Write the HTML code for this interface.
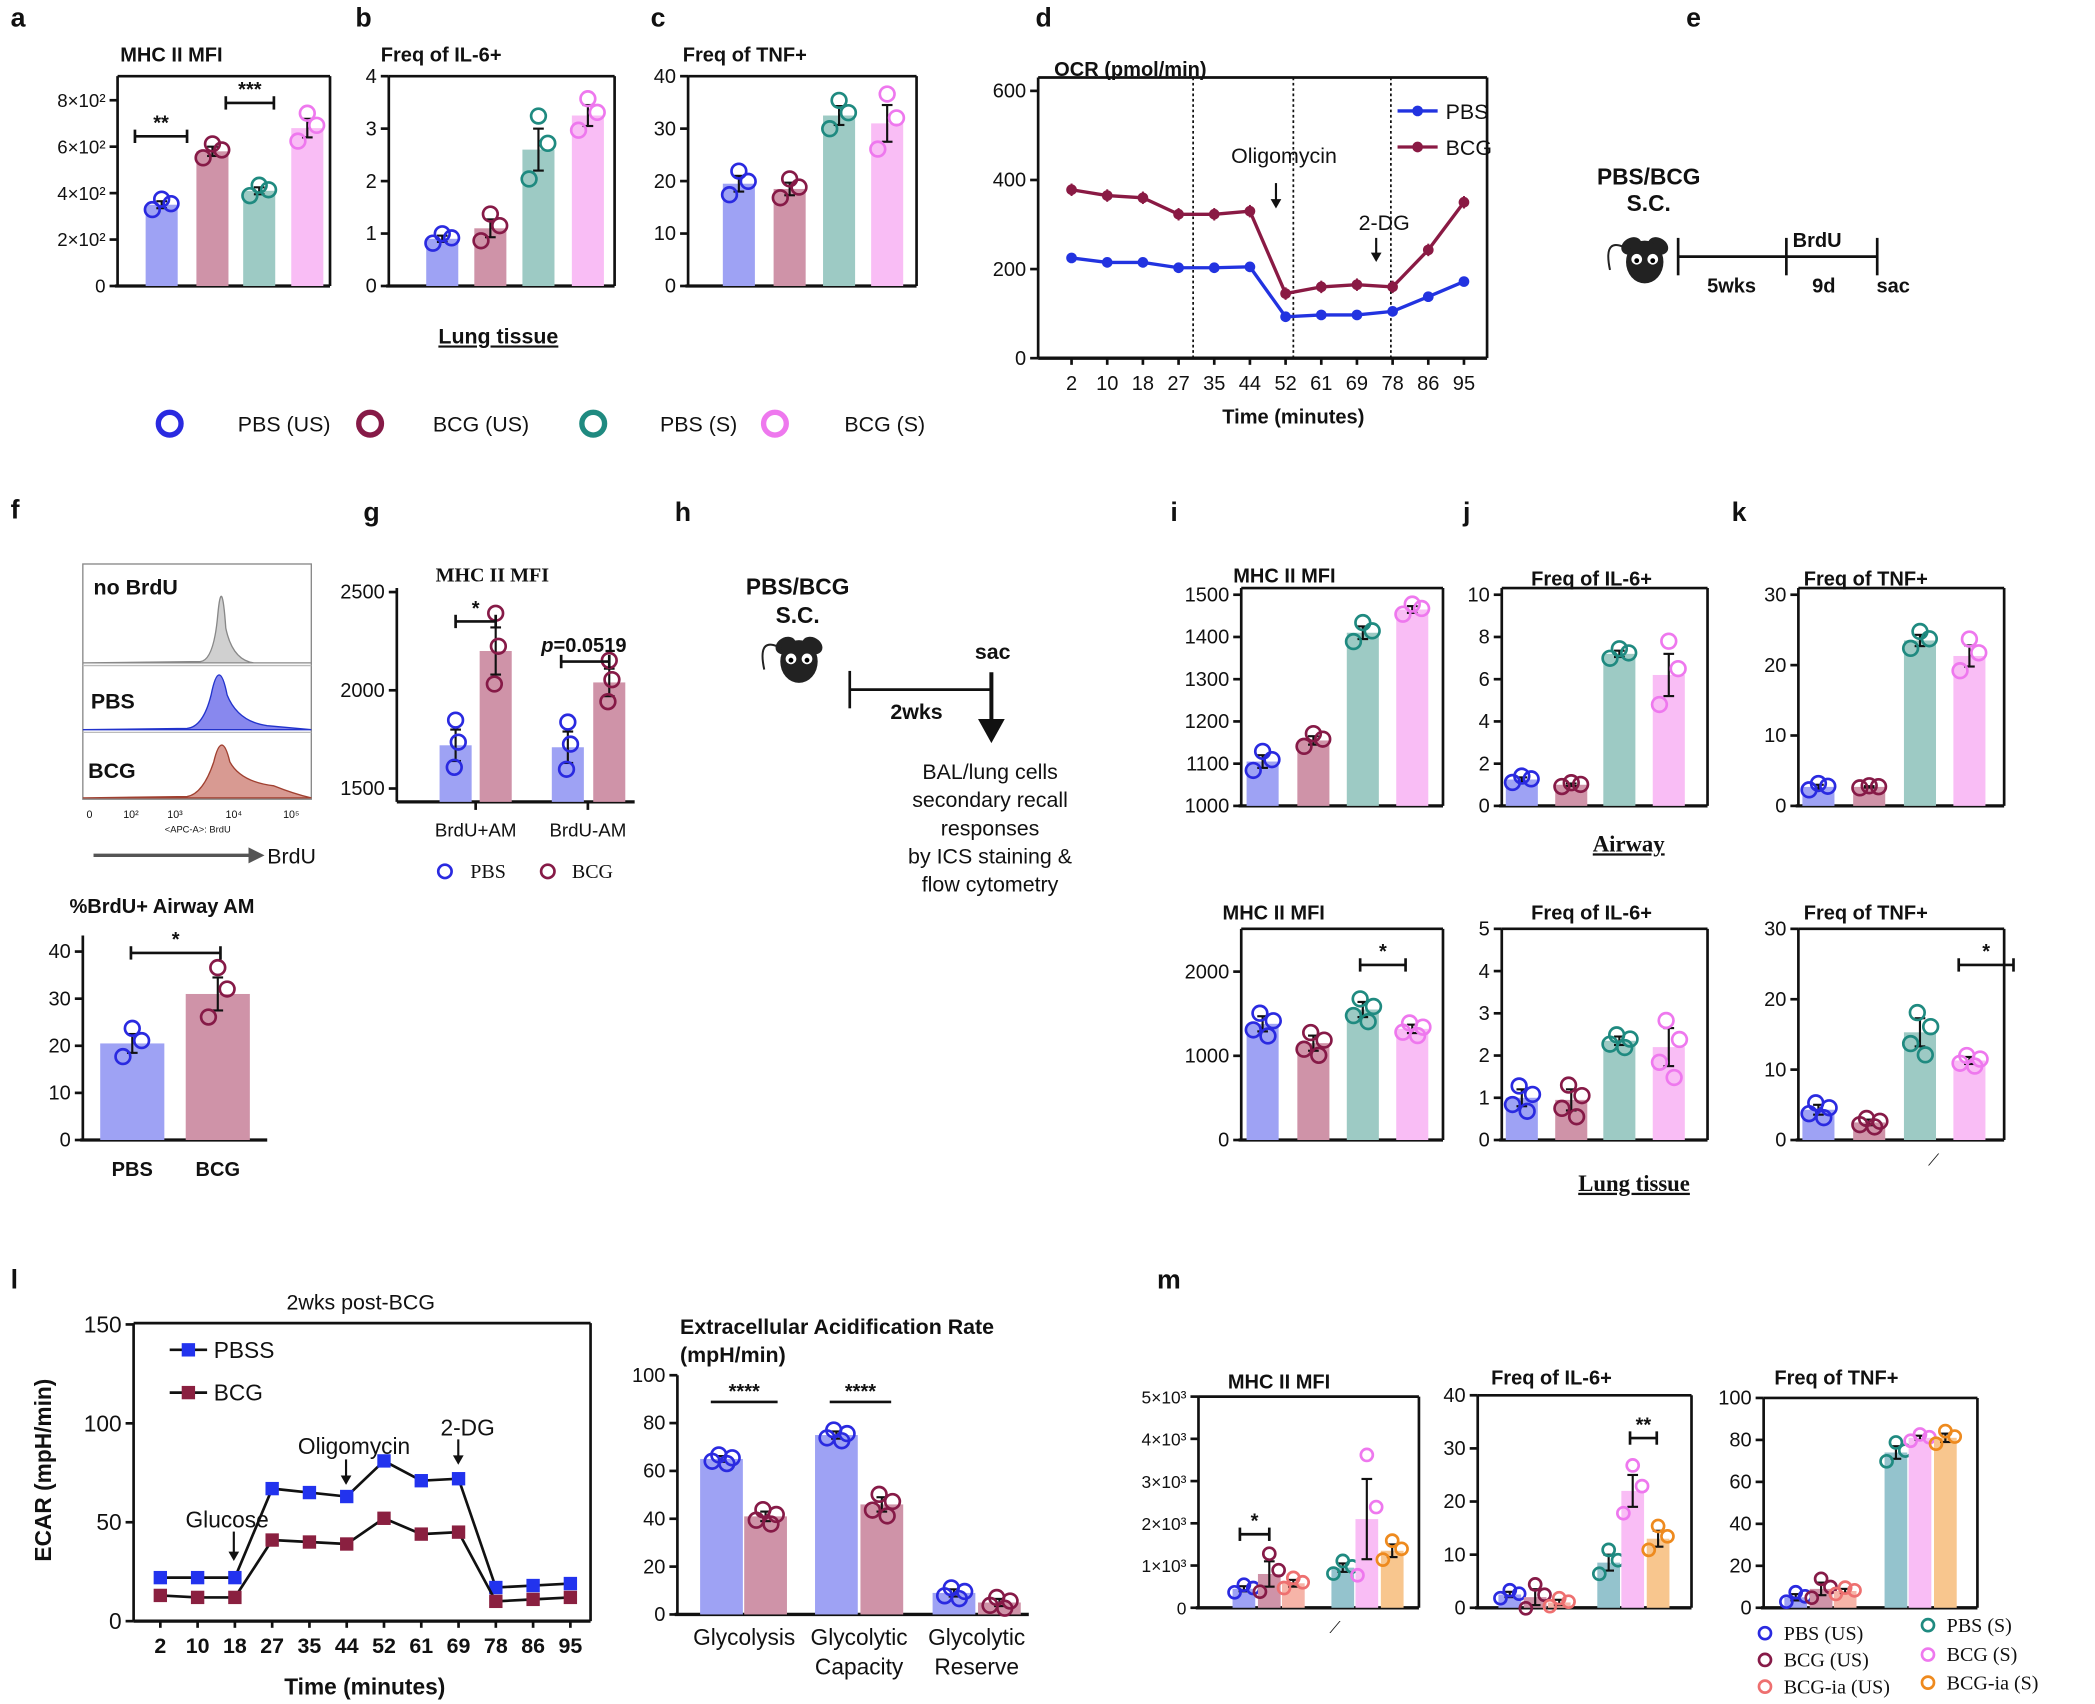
<!DOCTYPE html>
<html><head><meta charset="utf-8">
<style>
html,body{margin:0;padding:0;background:#fff;}
svg{display:block;}
text{font-family:"Liberation Sans",sans-serif;fill:#111;}
.s{font-family:"Liberation Serif",serif;}
</style></head>
<body>
<svg id="g" width="2095" height="1704" viewBox="0 0 1568 1275" preserveAspectRatio="none" xmlns="http://www.w3.org/2000/svg"></svg>
<script>
const S=document.getElementById('g');let H='';
const C={bu:['#2a2ae0','#9ea2f4'],mu:['#861a47','#cf93a8'],ts:['#1f8a80','#9dcac4'],ps:['#ee78ee','#f9bdf5'],ia:['#ee7070','#f6b4a8'],tm:['#1f8a80','#94c3cd'],or:['#ee8a1e','#f8c68e']};
function t(x,y,s,o={}){H+=`<text x="${x}" y="${y}" font-size="${o.fs||15}" ${o.b?'font-weight="bold"':''} text-anchor="${o.a||'start'}" ${o.cls?`class="${o.cls}"`:''} ${o.tr?`transform="${o.tr}"`:''} ${o.u?'text-decoration="underline"':''}>${s}</text>`;}
function l(x1,y1,x2,y2,w=2,c='#111',d=''){H+=`<line x1="${x1}" y1="${y1}" x2="${x2}" y2="${y2}" stroke="${c}" stroke-width="${w}" ${d?`stroke-dasharray="${d}"`:''}/>`;}
function arrow(x,y1,y2){l(x,y1,x,y2-6,1.6);H+=`<polygon points="${x-4},${y2-7} ${x+4},${y2-7} ${x},${y2}" fill="#111"/>`;}
function chart(o){
 const py=v=>o.yb-v*(o.yb-o.yref)/o.vref;
 if(o.box!==false){l(o.x0,o.top,o.x1,o.top,2);l(o.x1,o.top,o.x1,o.yb,2);}
 l(o.x0,o.top,o.x0,o.yb+1,2);l(o.x0-2,o.yb,o.x1,o.yb,2.5);
 o.ticks.forEach(k=>{const y=py(k[0]);l(o.x0-6,y,o.x0,y,2);t(o.x0-9,y+5,k[1],{a:'end',fs:o.tfs||15});});
 const bw=o.bw||24;
 o.bars.forEach(b=>{const c=C[b.c];const y=py(b.v);
  H+=`<rect x="${b.x-bw/2}" y="${y}" width="${bw}" height="${o.yb-y}" fill="${c[1]}"/>`;
  const e=b.e;l(b.x,py(b.v-e),b.x,py(b.v+e),1.6);l(b.x-4,py(b.v+e),b.x+4,py(b.v+e),1.6);l(b.x-4,py(b.v-e),b.x+4,py(b.v-e),1.6);
  const n=b.n||3;const offs=n==3?[[-7,-1.4],[0,1.6],[7,0.3]]:[[-7,-0.8],[-2,1.4],[4,-1.6],[8,0.4]];
  const r=o.r||5.5;
  offs.forEach(q=>{H+=`<circle cx="${b.x+q[0]}" cy="${py(b.v+q[1]*e)}" r="${r}" fill="none" stroke="${c[0]}" stroke-width="2"/>`;});
 });
 (o.sig||[]).forEach(s=>{l(s[0],s[2],s[1],s[2],2);l(s[0],s[2]-5,s[0],s[2]+5,2);l(s[1],s[2]-5,s[1],s[2]+5,2);t((s[0]+s[1])/2,s[2]-5,s[3],{a:'middle',b:1,fs:15});});
}
function mouse(x,y){H+=`<ellipse cx="${x-10}" cy="${y-12}" rx="8" ry="6" fill="#222" transform="rotate(-30 ${x-10} ${y-12})"/><ellipse cx="${x+10}" cy="${y-12}" rx="8" ry="6" fill="#222" transform="rotate(30 ${x+10} ${y-12})"/><ellipse cx="${x}" cy="${y}" rx="14" ry="16" fill="#222"/><circle cx="${x-6}" cy="${y-2}" r="4" fill="#fff"/><circle cx="${x+6}" cy="${y-2}" r="4" fill="#fff"/><circle cx="${x-6}" cy="${y-1}" r="1.8" fill="#000"/><circle cx="${x+6}" cy="${y-1}" r="1.8" fill="#000"/><path d="M${x-10},${y-8} Q${x-32},${y-22} ${x-26},${y+6}" fill="none" stroke="#222" stroke-width="1.5"/>`;}
[['a',8,20],['b',266,20],['c',487,20],['d',775,20],['e',1262,20],['f',8,388],['g',272,390],['h',505,390],['i',876,390],['j',1095,390],['k',1296,390],['l',8,964],['m',866,964]].forEach(a=>t(a[1],a[2],a[0],{b:1,fs:20}));
const four=(x,vals,errs)=>vals.map((v,i)=>({x:x[i],v,e:errs[i],c:['bu','mu','ts','ps'][i]}));
t(90,46,'MHC II MFI',{b:1});
chart({x0:88,x1:247,top:57,yb:214,yref:75,vref:800,ticks:[[0,'0'],[200,'2×10²'],[400,'4×10²'],[600,'6×10²'],[800,'8×10²']],tfs:14,bars:four([121,159,194,230],[350,580,410,680],[15,20,15,40]),sig:[[101,140,102,'**'],[169,205,77,'***']]});
t(285,46,'Freq of IL-6+',{b:1});
chart({x0:291,x1:460,top:57,yb:214,yref:57,vref:4,ticks:[[0,'0'],[1,'1'],[2,'2'],[3,'3'],[4,'4']],bars:four([331,367,403,440],[0.9,1.1,2.6,3.25],[0.06,0.17,0.4,0.2])});
t(511,46,'Freq of TNF+',{b:1});
chart({x0:515,x1:686,top:57,yb:214,yref:57,vref:40,ticks:[[0,'0'],[10,'10'],[20,'20'],[30,'30'],[40,'40']],bars:four([553,591,628,664],[19.5,18.5,32.5,31],[1.5,1.2,1.8,3.5])});
t(373,257,'Lung tissue',{b:1,a:'middle',u:1,fs:16});
[[127,'bu',178,'PBS (US)'],[277,'mu',324,'BCG (US)'],[444,'ts',494,'PBS (S)'],[580,'ps',632,'BCG (S)']].forEach(q=>{H+=`<circle cx="${q[0]}" cy="317" r="8.5" fill="none" stroke="${C[q[1]][0]}" stroke-width="4"/>`;t(q[2],323,q[3],{fs:16});});
(function(){const x0=777,x1=1113,top=58,yb=268;const py=v=>yb-v*200/600;
 l(x0,top,x1,top,2);l(x1,top,x1,yb,2);l(x0,top,x0,yb,2);l(x0,yb,x1,yb,2.5);
 [0,200,400,600].forEach(v=>{l(x0-6,py(v),x0,py(v));t(x0-9,py(v)+5,v,{a:'end'});});
 const xs=[2,10,18,27,35,44,52,61,69,78,86,95].map((s,i)=>({s,x:802+i*26.7}));
 xs.forEach(q=>{l(q.x,yb,q.x,yb+5);t(q.x,yb+24,q.s,{a:'middle'});});
 [893,968,1041].forEach(x=>l(x,top,x,yb,1.3,'#111','2,2'));
 const P=[225,215,215,203,203,205,93,97,97,105,138,172],B=[378,365,360,323,323,330,145,160,165,160,243,350];
 [[P,'#2233e0',6],[B,'#8a1a44',14]].forEach(s=>{H+=`<polyline fill="none" stroke="${s[1]}" stroke-width="2.5" points="${s[0].map((v,i)=>xs[i].x+','+py(v)).join(' ')}"/>`;s[0].forEach((v,i)=>{H+=`<circle cx="${xs[i].x}" cy="${py(v)}" r="4" fill="${s[1]}"/>`;l(xs[i].x,py(v-s[2]),xs[i].x,py(v+s[2]),1.5,s[1]);});});
 l(1046,83,1076,83,2.5,'#2233e0');H+=`<circle cx="1061" cy="83" r="4" fill="#2233e0"/>`;t(1082,89,'PBS',{fs:16});
 l(1046,110,1076,110,2.5,'#8a1a44');H+=`<circle cx="1061" cy="110" r="4" fill="#8a1a44"/>`;t(1082,116,'BCG',{fs:16});
 t(961,122,'Oligomycin',{a:'middle',fs:16});arrow(955,137,156);
 t(1036,172,'2-DG',{a:'middle',fs:16});arrow(1030,178,196);
 t(789,57,'OCR (pmol/min)',{b:1});t(968,317,'Time (minutes)',{b:1,a:'middle'});
})();
t(1234,138,'PBS/BCG',{b:1,a:'middle',fs:17});t(1234,158,'S.C.',{b:1,a:'middle',fs:17});mouse(1231,196);
l(1256,192,1405,192,2);[1256,1337,1405].forEach(x=>l(x,178,x,206,2));
t(1360,185,'BrdU',{b:1,a:'middle'});t(1296,219,'5wks',{b:1,a:'middle'});t(1365,219,'9d',{b:1,a:'middle'});t(1417,219,'sac',{b:1,a:'middle'});
H+=`<rect x="62" y="422" width="171" height="176" fill="none" stroke="#888" stroke-width="1"/>`;l(62,498,233,498,1,'#bbb');l(62,548,233,548,1,'#bbb');
H+=`<path d="M62,496 L150,495 Q160,494 163,460 Q166,428 169,470 Q174,494 190,496 L233,496 Z" fill="#d0d0d0" stroke="#888"/>`;
H+=`<path d="M62,546 L140,545 Q152,544 158,520 Q164,490 170,520 Q178,540 200,543 L233,546 Z" fill="#8888ee" stroke="#2233cc"/>`;
H+=`<path d="M62,597 L140,596 Q152,594 160,570 Q166,545 172,570 Q180,585 205,588 Q220,594 233,597 Z" fill="#d89a92" stroke="#a04030"/>`;
t(70,445,'no BrdU',{b:1,fs:16});t(68,530,'PBS',{b:1,fs:16});t(66,582,'BCG',{b:1,fs:16});
[[67,'0'],[98,'10²'],[131,'10³'],[175,'10⁴'],[218,'10⁵']].forEach(q=>t(q[0],612,q[1],{a:'middle',fs:8}));
t(148,623,'&lt;APC-A&gt;: BrdU',{a:'middle',fs:7});
l(70,640,188,640,2.5,'#555');H+=`<polygon points="186,634 198,640 186,646" fill="#555"/>`;t(200,646,'BrdU',{fs:16});
t(52,683,'%BrdU+ Airway AM',{b:1});
chart({x0:62,x1:200,box:false,top:700,yb:853,yref:712,vref:40,ticks:[[0,'0'],[10,'10'],[20,'20'],[30,'30'],[40,'40']],bw:48,bars:[{x:99,v:20.5,e:2,c:'bu'},{x:163,v:31,e:3.5,c:'mu'}],sig:[[98,165,713,'*']]});
t(99,880,'PBS',{b:1,a:'middle'});t(163,880,'BCG',{b:1,a:'middle'});
t(326,435,'MHC II MFI',{b:1,cls:'s'});
(function(){
 const py=v=>590-(v-1500)*0.147;
 l(297,440,297,600,2);l(297,600,475,600,2.5);
 [[1500,'1500'],[2000,'2000'],[2500,'2500']].forEach(k=>{l(291,py(k[0]),297,py(k[0]));t(288,py(k[0])+5,k[1],{a:'end'});});
 [[341,1720,80,'bu'],[371,2200,120,'mu'],[425,1710,80,'bu'],[456,2040,70,'mu']].forEach(b=>{const c=C[b[3]];H+=`<rect x="${b[0]-12}" y="${py(b[1])}" width="24" height="${600-py(b[1])}" fill="${c[1]}"/>`;
  l(b[0],py(b[1]-b[2]),b[0],py(b[1]+b[2]),1.6);l(b[0]-4,py(b[1]+b[2]),b[0]+4,py(b[1]+b[2]),1.6);l(b[0]-4,py(b[1]-b[2]),b[0]+4,py(b[1]-b[2]),1.6);
  [[-1,-1.4],[0,1.6],[2,0.2]].forEach(q=>{H+=`<circle cx="${b[0]+q[0]}" cy="${py(b[1]+q[1]*b[2])}" r="5.5" fill="none" stroke="${c[0]}" stroke-width="2"/>`;});});
 l(341,465,371,465,2);l(341,460,341,470);l(371,460,371,470);t(356,460,'*',{b:1,a:'middle'});
 l(420,495,456,495,2);l(420,490,420,500);l(456,490,456,500);t(437,488,'<tspan font-style="italic">p</tspan>=0.0519',{b:1,a:'middle',fs:15});
 l(356,600,356,606);l(440,600,440,606);
 t(356,626,'BrdU+AM',{a:'middle',fs:14});t(440,626,'BrdU-AM',{a:'middle',fs:14});
 H+=`<circle cx="333" cy="652" r="5" fill="none" stroke="${C.bu[0]}" stroke-width="2"/><circle cx="410" cy="652" r="5" fill="none" stroke="${C.mu[0]}" stroke-width="2"/>`;
 t(352,657,'PBS',{cls:'s',fs:15});t(428,657,'BCG',{cls:'s',fs:15});
})();
t(597,445,'PBS/BCG',{b:1,a:'middle',fs:17});t(597,466,'S.C.',{b:1,a:'middle',fs:17});mouse(598,495);
l(636,516,742,516,2);l(636,502,636,530,2);l(742,503,742,540,3);H+=`<polygon points="732,538 752,538 742,556" fill="#111"/>`;
t(743,493,'sac',{b:1,a:'middle',fs:16});t(686,538,'2wks',{b:1,a:'middle',fs:16});
['BAL/lung cells','secondary recall','responses','by ICS staining &amp;','flow cytometry'].forEach((s,i)=>t(741,583+i*21,s,{a:'middle',fs:16}));
t(923,436,'MHC II MFI',{b:1});
chart({x0:929,x1:1080,top:440,yb:603,yref:445,vref:500,ticks:[[0,'1000'],[100,'1100'],[200,'1200'],[300,'1300'],[400,'1400'],[500,'1500']],
 bars:four([945,983,1020,1057],[105,155,410,465],[15,10,15,8])});
t(1146,438,'Freq of IL-6+',{b:1});
chart({x0:1124,x1:1278,top:440,yb:603,yref:445,vref:10,ticks:[[0,'0'],[2,'2'],[4,'4'],[6,'6'],[8,'8'],[10,'10']],bars:four([1139,1176,1212,1249],[1.25,1.0,7.2,6.2],[0.1,0.06,0.15,1.0])});
t(1350,438,'Freq of TNF+',{b:1});
chart({x0:1346,x1:1500,top:440,yb:603,yref:445,vref:30,ticks:[[0,'0'],[10,'10'],[20,'20'],[30,'30']],bars:four([1361,1399,1437,1474],[2.7,2.7,23.5,21.3],[0.3,0.1,0.8,1.5])});
t(1219,637,'Airway',{b:1,a:'middle',cls:'s',u:1,fs:17});
const f4=(x,vals,errs)=>vals.map((v,i)=>({x:x[i],v,e:errs[i],c:['bu','mu','ts','ps'][i],n:4}));
t(915,688,'MHC II MFI',{b:1});
chart({x0:929,x1:1080,top:695,yb:853,yref:727,vref:2000,ticks:[[0,'0'],[1000,'1000'],[2000,'2000']],bars:f4([945,983,1020,1057],[1380,1150,1550,1320],[90,90,90,50]),sig:[[1018,1052,722,'*']]});
t(1146,688,'Freq of IL-6+',{b:1});
chart({x0:1124,x1:1278,top:695,yb:853,yref:695,vref:5,ticks:[[0,'0'],[1,'1'],[2,'2'],[3,'3'],[4,'4'],[5,'5']],bars:f4([1139,1176,1212,1249],[1.0,0.95,2.35,2.2],[0.2,0.25,0.1,0.45])});
t(1350,688,'Freq of TNF+',{b:1});
chart({x0:1346,x1:1500,top:695,yb:853,yref:695,vref:30,ticks:[[0,'0'],[10,'10'],[20,'20'],[30,'30']],bars:f4([1361,1399,1437,1474],[4.3,2.5,15.3,11.3],[0.7,0.4,2,0.5]),sig:[[1466,1507,722,'*']]});
t(1443,872,'⟋',{fs:12});
t(1223,891,'Lung tissue',{b:1,a:'middle',cls:'s',u:1,fs:17});
(function(){const x0=100,x1=442,top=990,yb=1213;const py=v=>yb-v*(yb-991)/150;
 l(x0,top,x1,top,2);l(x1,top,x1,yb,2);l(x0,top,x0,yb,2);l(x0,yb,x1,yb,2.5);
 [0,50,100,150].forEach(v=>{l(x0-6,py(v),x0,py(v));t(x0-9,py(v)+6,v,{a:'end',fs:17});});
 const xs=[2,10,18,27,35,44,52,61,69,78,86,95].map((s,i)=>({s,x:120+i*27.9}));
 xs.forEach(q=>{l(q.x,yb,q.x,yb+5);t(q.x,yb+24,q.s,{a:'middle',b:1,fs:16});});
 const P=[22,22,22,67,65,63,81,71,72,17,18,19],B=[13,12,12,41,40,39,52,44,45,10,11,12];
 [[P,'#2233ee'],[B,'#8a2040']].forEach(s=>{H+=`<polyline fill="none" stroke="#111" stroke-width="2" points="${s[0].map((v,i)=>xs[i].x+','+py(v)).join(' ')}"/>`;s[0].forEach((v,i)=>{H+=`<rect x="${xs[i].x-5}" y="${py(v)-5}" width="10" height="10" fill="${s[1]}"/>`;});});
 l(127,1010,155,1010,2);H+=`<rect x="136" y="1005" width="10" height="10" fill="#2233ee"/>`;t(160,1016,'PBSS',{fs:17});
 l(127,1042,155,1042,2);H+=`<rect x="136" y="1037" width="10" height="10" fill="#8a2040"/>`;t(160,1048,'BCG',{fs:17});
 t(270,980,'2wks post-BCG',{a:'middle',fs:16});
 t(38,1100,'ECAR (mpH/min)',{b:1,a:'middle',fs:17,tr:'rotate(-90 38 1100)'});
 t(273,1268,'Time (minutes)',{b:1,a:'middle',fs:17});
 t(170,1143,'Glucose',{a:'middle',fs:17});arrow(175,1146,1168);
 t(265,1088,'Oligomycin',{a:'middle',fs:17});arrow(259,1092,1111);
 t(350,1074,'2-DG',{a:'middle',fs:17});arrow(343,1077,1096);
})();
t(509,998,'Extracellular Acidification Rate',{b:1,fs:16});t(509,1019,'(mpH/min)',{b:1,fs:16});
chart({x0:507,x1:770,box:false,top:1029,yb:1208,yref:1029,vref:100,ticks:[[0,'0'],[20,'20'],[40,'40'],[60,'60'],[80,'80'],[100,'100']],bw:32,
 bars:[{x:540,v:65,e:1.2,c:'bu',n:4},{x:573,v:41,e:2,c:'mu',n:4},{x:626,v:75,e:1.5,c:'bu',n:4},{x:660,v:46,e:3,c:'mu',n:4},{x:714,v:9,e:1.5,c:'bu',n:4},{x:748,v:5,e:1.5,c:'mu',n:4}]});
l(532,1049,582,1049,2);t(557,1046,'****',{b:1,a:'middle'});l(621,1049,667,1049,2);t(644,1046,'****',{b:1,a:'middle'});
t(557,1231,'Glycolysis',{a:'middle',fs:17});t(643,1231,'Glycolytic',{a:'middle',fs:17});t(643,1253,'Capacity',{a:'middle',fs:17});t(731,1231,'Glycolytic',{a:'middle',fs:17});t(731,1253,'Reserve',{a:'middle',fs:17});
const six=(x,vals,errs)=>vals.map((v,i)=>({x:x[i],v,e:errs[i],c:['bu','mu','ia','tm','ps','or'][i]}));
t(919,1039,'MHC II MFI',{b:1});
chart({x0:897,x1:1062,top:1045,yb:1203,yref:1045,vref:5000,tfs:13,r:4.5,bw:17,ticks:[[0,'0'],[1000,'1×10³'],[2000,'2×10³'],[3000,'3×10³'],[4000,'4×10³'],[5000,'5×10³']],
 bars:six([931,950,968,1005,1023,1042],[450,800,580,950,2100,1350],[60,300,80,100,950,150]),sig:[[928,950,1148,'*']]});
t(995,1222,'⟋',{fs:12});
t(1116,1036,'Freq of IL-6+',{b:1});
chart({x0:1106,x1:1266,top:1044,yb:1203,yref:1044,vref:40,tfs:15,r:4.5,bw:17,ticks:[[0,'0'],[10,'10'],[20,'20'],[30,'30'],[40,'40']],
 bars:six([1130,1149,1167,1204,1222,1241],[2.5,2,1,8.5,22,13],[0.5,1.5,0.5,1.5,3,1.5]),sig:[[1220,1240,1076,'**']]});
t(1328,1036,'Freq of TNF+',{b:1});
chart({x0:1320,x1:1480,top:1046,yb:1203,yref:1046,vref:100,tfs:15,r:4.5,bw:17,ticks:[[0,'0'],[20,'20'],[40,'40'],[60,'60'],[80,'80'],[100,'100']],
 bars:six([1344,1363,1381,1419,1437,1456],[5,9,8,74,81,81],[1.5,3,1,3,1,2])});
[[1321,1222,'bu','PBS (US)'],[1321,1242,'mu','BCG (US)'],[1321,1262,'ia','BCG-ia (US)'],[1443,1216,'tm','PBS (S)'],[1443,1238,'ps','BCG (S)'],[1443,1259,'or','BCG-ia (S)']].forEach(q=>{H+=`<circle cx="${q[0]}" cy="${q[1]}" r="4.5" fill="none" stroke="${C[q[2]][0]}" stroke-width="2"/>`;t(q[0]+14,q[1]+5,q[3],{cls:'s',fs:15});});
S.innerHTML=H;
</script>
</body></html>
